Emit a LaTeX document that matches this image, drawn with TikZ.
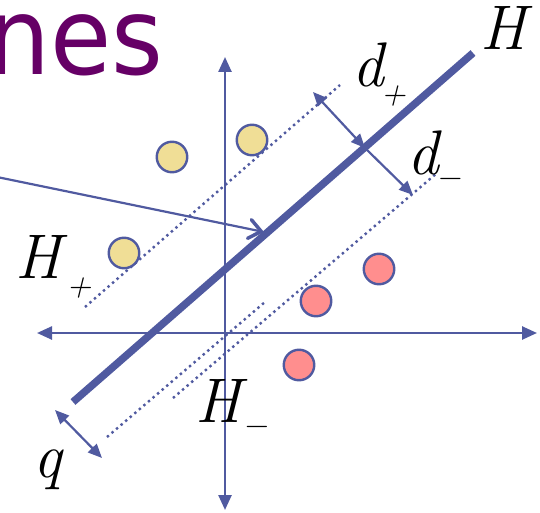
\documentclass[tikz,border=0pt]{standalone}
\usepackage{fontspec}
\usepackage{graphicx}
\usetikzlibrary{arrows.meta}
\newfontfamily\titlefont{DejaVu Sans}
\definecolor{ax}{RGB}{80,90,160}
\definecolor{yel}{RGB}{240,222,150}
\definecolor{pnk}{RGB}{255,142,142}
\definecolor{ttl}{RGB}{102,0,102}
\newcommand\lsub[3]{\kern#1pt\raisebox{#2pt}{\fontsize{34}{34}\selectfont #3}}
\begin{document}
\begin{tikzpicture}[x=1pt,y=-1pt,
  axisline/.style={draw=ax, line width=2.5pt, {Triangle[length=15pt,width=13pt]}-{Triangle[length=15pt,width=13pt]}},
  hyper/.style={draw=ax, line width=7.5pt},
  marginline/.style={draw=ax, line width=2.4pt, dash pattern=on 2.4pt off 3.6pt},
  distarrow/.style={draw=ax, line width=2.2pt},
  tipd/.tip={Triangle[length=14pt,width=12pt]},
  pointer/.style={draw=ax, line width=2.2pt, -{Straight Barb[length=12pt,width=19pt,line width=3.5pt,line cap=round]}},
  ydot/.style={circle, draw=ax, line width=2.4pt, fill=yel, minimum size=30.5pt, inner sep=0pt},
  rdot/.style={circle, draw=ax, line width=2.4pt, fill=pnk, minimum size=30.5pt, inner sep=0pt},
  lbl/.style={font=\fontsize{63}{63}\selectfont\itshape, inner sep=0pt, anchor=base west},
  titletext/.style={font=\titlefont\fontsize{107}{107}\selectfont, text=ttl, inner sep=0pt, anchor=base west}]
\useasboundingbox (0,0) rectangle (540,513);
% title fragment
\node[titletext] (title) at (-13,75) {\scalebox{0.93}[1]{nes}};
% coordinates
\coordinate (vtop) at (225,57);
\coordinate (vbot) at (225,510);
\coordinate (hl) at (37,333);
\coordinate (hr) at (537,333);
\coordinate (Ha) at (73,402);
\coordinate (Hb) at (473,53);
\coordinate (Pa) at (85,307);
\coordinate (Pb) at (340,85);
\coordinate (Sa) at (107,437);
\coordinate (Sb) at (265,302);
\coordinate (Ma) at (173,398);
\coordinate (Mb) at (437,173);
\coordinate (dpa) at (313,92);
\coordinate (dpb) at (365,148);
\coordinate (dmb) at (413,195);
\coordinate (qa) at (55,410);
\coordinate (qb) at (102,458);
\coordinate (ptr) at (-3,177);
\coordinate (ptrtip) at (264,232);
% margin lines
\draw[marginline] (Pa) -- (Pb);
\draw[marginline] (Sa) -- (Sb);
\draw[marginline] (Ma) -- (Mb);
% axes
\draw[axisline] (vbot) -- (vtop);
\draw[axisline] (hl) -- (hr);
% points
\node[ydot] (y1) at (172,157) {};
\node[ydot] (y2) at (252,140) {};
\node[ydot] (y3) at (124,253) {};
\node[rdot] (r1) at (379,269) {};
\node[rdot] (r2) at (316,301) {};
\node[rdot] (r3) at (299,365) {};
% pointer
\draw[pointer] (ptr) -- (ptrtip);
% hyperplane
\draw[hyper] (Ha) -- (Hb);
% distances
\draw[distarrow, tipd-tipd] (dpa) -- (dpb);
\draw[distarrow, -tipd] (dpb) -- (dmb);
\draw[distarrow, tipd-tipd] (qa) -- (qb);
% labels
\node[lbl] (lH) at (480,50) {H};
\node[lbl] (lHp) at (15,278) {H\lsub{5}{-18}{+}};
\node[lbl] (lHm) at (195,422) {H\lsub{1}{-13}{−}};
\node[lbl] (ldp) at (352,87) {d\lsub{-3}{-18}{+}};
\node[lbl] (ldm) at (407,175) {d\lsub{-3}{-13}{−}};
\node[lbl] (lq) at (33,477) {q};
\end{tikzpicture}
\end{document}
